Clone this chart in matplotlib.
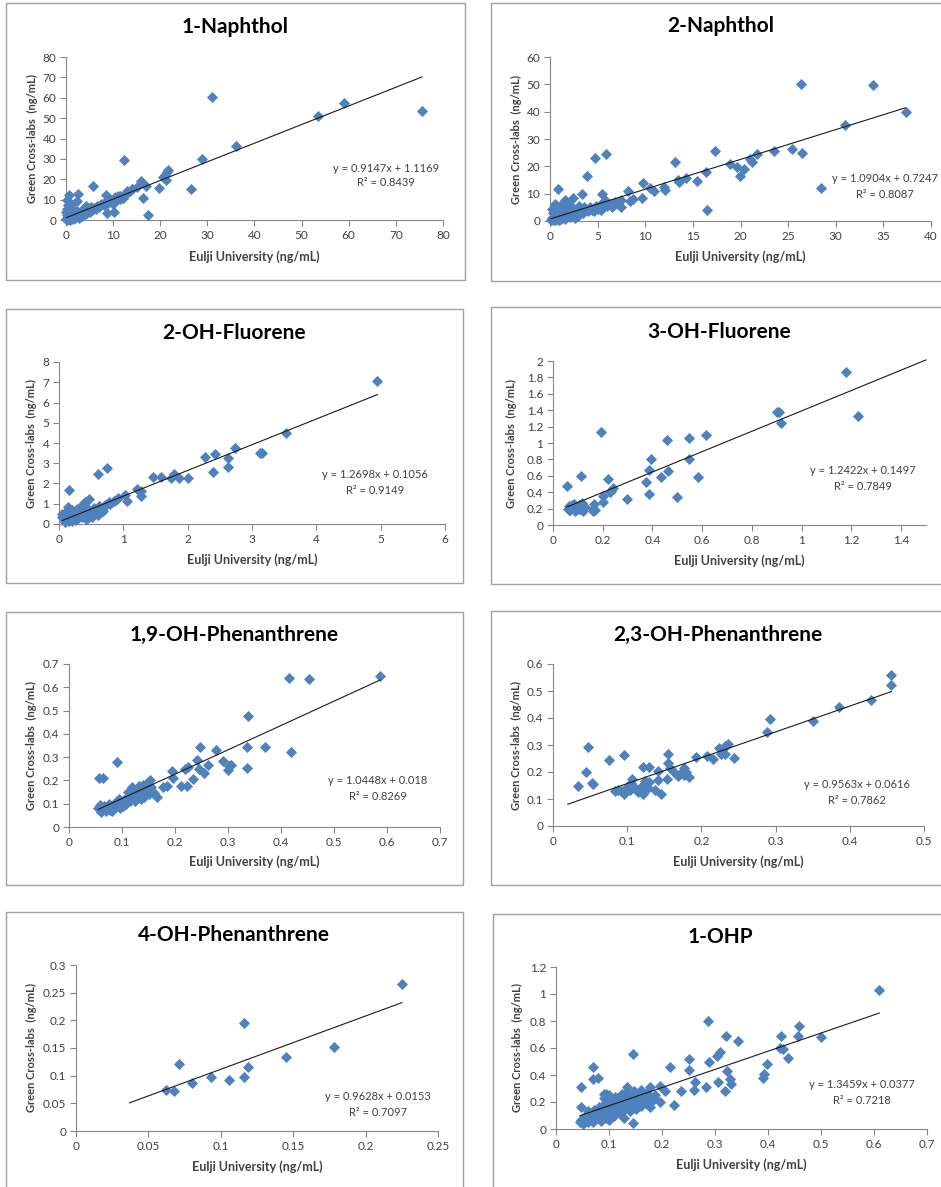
import matplotlib
matplotlib.use('Agg')
import matplotlib.pyplot as plt
from matplotlib.patches import Rectangle
import numpy as np

plt.rcParams['font.family'] = ['Lato', 'DejaVu Sans']

W, H = 941, 1187

# ---------------- DATA ----------------
titles = ['1-Naphthol', '2-Naphthol', '2-OH-Fluorene', '3-OH-Fluorene',
          '1,9-OH-Phenanthrene', '2,3-OH-Phenanthrene', '4-OH-Phenanthrene', '1-OHP']
slopes = [0.9147, 1.0904, 1.2698, 1.2422, 1.0448, 0.9563, 0.9628, 1.3459]
intercepts = [1.1169, 0.7247, 0.1056, 0.1497, 0.018, 0.0616, 0.0153, 0.0377]
r2_values = ['0.8439', '0.8087', '0.9149', '0.7849', '0.8269', '0.7862', '0.7097', '0.7218']
eq_texts = ['y = 0.9147x + 1.1169', 'y = 1.0904x + 0.7247', 'y = 1.2698x + 0.1056',
            'y = 1.2422x + 0.1497', 'y = 1.0448x + 0.018', 'y = 0.9563x + 0.0616',
            'y = 0.9628x + 0.0153', 'y = 1.3459x + 0.0377']
trend_start = [0.1, 0.1, 0.05, 0.055, 0.055, 0.02, 0.037, 0.045]
trend_end = [75.5, 37.3, 4.95, 1.5, 0.587, 0.456, 0.225, 0.61]
x_max = [80, 40, 6, 1.5, 0.7, 0.5, 0.25, 0.7]
x_step = [10, 5, 1, 0.2, 0.1, 0.1, 0.05, 0.1]
y_max = [80, 60, 8, 2, 0.7, 0.6, 0.3, 1.2]
y_step = [10, 10, 1, 0.2, 0.1, 0.1, 0.05, 0.2]

# 1-Naphthol
p1_x = [75.5, 59, 53.5, 36, 31, 28.8, 26.6, 21.7, 21.4, 21, 21.2, 20.6, 19.8, 17.3, 17, 16.4, 16, 15, 14, 13,
        12.3, 12, 11.5, 11, 10.2, 10, 8.8, 8.5, 5.8, 2.5, 2.3, 0.7, 0.3, 1,
        0.1, 0.2, 0.3, 0.4, 0.5, 0.6, 0.7, 0.8, 0.9, 1.0, 1.1, 1.2, 1.3, 1.5, 1.6, 1.8, 2.0, 2.2, 2.4, 2.6,
        2.8, 3.0, 3.2, 3.4, 3.6, 3.8, 4.0, 4.2, 4.4, 4.6, 4.8, 5.0, 5.3, 5.6, 6.0, 6.3, 6.6, 7.0, 7.5, 8.0,
        8.3, 9.0, 9.5, 10.0, 10.5, 11.0, 11.5, 12.0, 12.5, 13.0, 13.5, 14.0, 0.6, 0.1, 0.4,
        0.2, 0.5, 0.8, 1.4, 1.7, 2.1, 0.3, 0.9, 2.7, 3.3, 3.9]
p1_y = [53.5, 57.5, 51, 36.5, 60.5, 30, 15, 24.5, 23.5, 22, 19.5, 21, 15.5, 2.3, 16.5, 11, 19, 16, 15, 14,
        29.5, 11, 10.5, 12, 4, 8, 3.5, 12.2, 16.8, 13, 9.2, 12.5, 10, 8,
        0.3, 1.0, 0.1, 2.0, 0.5, 3.0, 1.2, 0.2, 4.0, 1.5, 2.5, 0.8, 3.5, 1.8, 5.0, 2.2, 1.0, 3.0, 4.5, 2.0,
        3.5, 1.5, 4.0, 3.0, 5.5, 2.5, 4.5, 7.0, 3.5, 5.0, 6.0, 4.0, 6.5, 5.0, 6.0, 5.5, 7.0, 6.5, 8.0, 7.5,
        9.0, 8.5, 10.0, 9.0, 11.5, 10.5, 12.0, 11.0, 12.5, 13.5, 14.0, 15.0, 6.0, 4.0, 7.5,
        2.5, 1.5, 2.8, 0.5, 3.0, 2.0, 5.5, 0.6, 1.2, 2.2, 3.3]

# 2-Naphthol
p2_x = [37.4, 33.9, 26.4, 31, 28.4, 26.5, 25.4, 23.5, 21.7, 21.2, 21, 20.4, 19.9, 19.6, 18.9, 17.3, 16.4,
        16.5, 15.4, 14.3, 13.5, 13.4, 13.1, 12.1, 12, 10.9, 10.5, 9.8, 9.7, 8.7, 8.4, 8.2, 7.5, 5.9, 4.7,
        3.9, 3.4, 5.5, 5.8, 2.4, 1.6, 1.8, 0.85, 0.5,
        0.1, 0.2, 0.3, 0.4, 0.5, 0.6, 0.7, 0.8, 0.9, 1.0, 1.1, 1.2, 1.3, 1.4, 1.5, 1.6, 1.8, 1.9, 2.0, 2.1,
        2.3, 2.5, 2.6, 2.7, 2.9, 3.0, 3.2, 3.3, 3.5, 3.6, 3.8, 4.0, 4.2, 4.4, 4.6, 4.8, 5.0, 5.2, 5.4, 5.6,
        5.8, 6.0, 6.3, 6.5, 6.8, 7.0, 7.5, 0.3, 0.2, 1.0, 1.5, 0.6, 2.2, 3.0, 1.2]
p2_y = [40, 49.7, 50, 35, 12, 24.8, 26.3, 25.5, 24.5, 21.5, 22.5, 19.2, 16.5, 19.8, 20.8, 25.5, 17.8,
        4, 14.8, 15.6, 14.3, 15, 21.5, 11.2, 12.5, 11, 12, 13.8, 8.5, 8, 7.2, 11, 5.2, 24.6, 22.9,
        16.6, 9.8, 9.8, 7.8, 8.3, 7.5, 7.0, 11.6, 6.3,
        0.3, 1.0, 0.2, 1.5, 0.5, 2.0, 0.8, 1.5, 0.3, 2.5, 1.2, 0.6, 3.0, 1.8, 2.2, 0.8, 3.5, 2.0, 4.0, 1.5,
        3.0, 2.5, 1.0, 4.0, 3.0, 2.2, 4.5, 3.5, 2.8, 5.0, 4.0, 3.5, 5.0, 4.2, 3.8, 5.5, 4.5, 6.0, 4.0, 5.2,
        6.5, 5.5, 6.2, 5.0, 7.0, 6.5, 7.5, 3.0, 4.5, 5.5, 5.0, 2.8, 5.5, 5.5, 4.0]

# 2-OH-Fluorene
p3_x = [4.95, 3.53, 3.15, 3.12, 2.73, 2.63, 2.63, 2.43, 2.39, 2.27, 2.0, 1.86, 1.78, 1.74, 1.59, 1.46,
        1.28, 1.22, 1.27, 1.06, 1.02, 0.92, 0.88, 0.75, 0.61, 0.16, 0.46, 0.38,
        0.05, 0.08, 0.1, 0.12, 0.14, 0.15, 0.17, 0.2, 0.22, 0.25, 0.27, 0.3, 0.32, 0.35, 0.37, 0.4, 0.42,
        0.45, 0.47, 0.5, 0.52, 0.55, 0.58, 0.62, 0.65, 0.68, 0.7, 0.72, 0.78, 0.8, 0.85, 0.1, 0.2, 0.05,
        0.3, 0.45, 0.6, 0.12, 0.4, 0.28]
p3_y = [7.08, 4.5, 3.52, 3.5, 3.75, 3.25, 2.83, 3.48, 2.58, 3.3, 2.25, 2.25, 2.47, 2.25, 2.3, 2.3,
        1.38, 1.75, 1.65, 1.12, 1.42, 1.3, 1.18, 2.76, 2.48, 1.68, 1.25, 1.0,
        0.35, 0.5, 0.2, 0.6, 0.85, 0.15, 0.4, 0.7, 0.3, 0.55, 0.2, 0.45, 0.7, 0.35, 0.9, 0.5, 0.25,
        0.75, 0.4, 0.6, 0.35, 0.8, 0.55, 0.9, 0.7, 0.65, 0.85, 0.95, 1.1, 1.0, 1.15, 0.1, 0.15, 0.5,
        0.3, 0.3, 0.45, 0.3, 1.1, 0.75]

# 3-OH-Fluorene
p4_x = [1.178, 1.228, 0.9, 0.91, 0.917, 0.617, 0.585, 0.547, 0.548, 0.5, 0.459, 0.463, 0.434, 0.394,
        0.386, 0.376, 0.386, 0.299, 0.24, 0.23, 0.235, 0.22, 0.203, 0.203, 0.193, 0.111, 0.055,
        0.06, 0.065, 0.07, 0.075, 0.08, 0.085, 0.09, 0.095, 0.1, 0.105, 0.11, 0.115, 0.12, 0.13, 0.16,
        0.165, 0.17, 0.16, 0.065]
p4_y = [1.87, 1.33, 1.38, 1.38, 1.25, 1.1, 0.59, 1.06, 0.81, 0.34, 1.04, 0.66, 0.59, 0.8,
        0.67, 0.52, 0.38, 0.32, 0.45, 0.4, 0.42, 0.56, 0.35, 0.28, 1.13, 0.6, 0.48,
        0.2, 0.23, 0.18, 0.24, 0.21, 0.26, 0.17, 0.22, 0.19, 0.24, 0.2, 0.27, 0.17, 0.22, 0.2,
        0.26, 0.18, 0.17, 0.18]

# 1,9-OH-Phenanthrene
p5_x = [0.587, 0.415, 0.452, 0.419, 0.37, 0.337, 0.336, 0.336, 0.305, 0.3, 0.302, 0.291, 0.277, 0.263,
        0.255, 0.247, 0.242, 0.246, 0.234, 0.222, 0.212, 0.218, 0.225, 0.195, 0.197, 0.184, 0.178,
        0.166, 0.09, 0.056, 0.065,
        0.055, 0.058, 0.06, 0.063, 0.066, 0.07, 0.072, 0.075, 0.078, 0.08, 0.082, 0.085, 0.088, 0.09,
        0.092, 0.095, 0.097, 0.1, 0.102, 0.105, 0.108, 0.11, 0.112, 0.115, 0.118, 0.12, 0.122, 0.125,
        0.128, 0.13, 0.132, 0.135, 0.138, 0.14, 0.142, 0.145, 0.148, 0.15, 0.152, 0.155, 0.158, 0.16,
        0.113, 0.098, 0.127]
p5_y = [0.648, 0.64, 0.636, 0.32, 0.342, 0.477, 0.342, 0.252, 0.266, 0.245, 0.26, 0.284, 0.33, 0.267,
        0.232, 0.342, 0.288, 0.25, 0.206, 0.178, 0.178, 0.25, 0.257, 0.242, 0.21, 0.175, 0.17,
        0.13, 0.28, 0.21, 0.21,
        0.08, 0.095, 0.065, 0.075, 0.09, 0.07, 0.085, 0.1, 0.075, 0.09, 0.07, 0.1, 0.085, 0.11,
        0.095, 0.12, 0.08, 0.105, 0.09, 0.115, 0.1, 0.13, 0.15, 0.11, 0.17, 0.125, 0.14, 0.11,
        0.16, 0.13, 0.175, 0.12, 0.15, 0.18, 0.13, 0.16, 0.19, 0.14, 0.2, 0.17, 0.15, 0.145,
        0.12, 0.1, 0.145]

# 2,3-OH-Phenanthrene
p6_x = [0.456, 0.455, 0.429, 0.385, 0.35, 0.292, 0.288, 0.244, 0.236, 0.232, 0.228, 0.227, 0.232, 0.224,
        0.216, 0.208, 0.193, 0.183, 0.179, 0.177, 0.176, 0.172, 0.168, 0.163, 0.158, 0.155, 0.155,
        0.153, 0.145, 0.138, 0.142, 0.142, 0.13, 0.13, 0.121, 0.121, 0.118, 0.114, 0.122, 0.124,
        0.107, 0.104, 0.1, 0.096, 0.092, 0.096, 0.087, 0.083, 0.075, 0.054, 0.052, 0.047, 0.044,
        0.034, 0.11, 0.115, 0.125, 0.105, 0.118, 0.128]
p6_y = [0.56, 0.524, 0.468, 0.44, 0.39, 0.398, 0.348, 0.253, 0.305, 0.295, 0.28, 0.268, 0.268, 0.288,
        0.247, 0.26, 0.254, 0.18, 0.2, 0.19, 0.215, 0.195, 0.185, 0.2, 0.215, 0.267, 0.232,
        0.175, 0.12, 0.135, 0.205, 0.17, 0.217, 0.163, 0.217, 0.12, 0.146, 0.133, 0.153, 0.165,
        0.175, 0.132, 0.145, 0.118, 0.13, 0.264, 0.135, 0.13, 0.243, 0.156, 0.16, 0.292, 0.2,
        0.148, 0.14, 0.125, 0.15, 0.16, 0.135, 0.14]

# 4-OH-Phenanthrene
p7_x = [0.225, 0.178, 0.145, 0.116, 0.119, 0.116, 0.106, 0.093, 0.080, 0.071, 0.068, 0.062]
p7_y = [0.266, 0.151, 0.133, 0.195, 0.116, 0.097, 0.093, 0.098, 0.087, 0.121, 0.073, 0.075]

# 1-OHP
p8_x = [0.61, 0.5, 0.459, 0.457, 0.438, 0.425, 0.423, 0.428, 0.398, 0.392, 0.39, 0.344, 0.321, 0.323,
        0.328, 0.33, 0.318, 0.309, 0.303, 0.306, 0.287, 0.289, 0.283, 0.262, 0.261, 0.25, 0.25, 0.235,
        0.223, 0.216, 0.206, 0.197, 0.196, 0.187, 0.178, 0.178, 0.145, 0.145, 0.129, 0.134, 0.08,
        0.069, 0.07, 0.048, 0.047, 0.09, 0.095,
        0.045, 0.048, 0.05, 0.052, 0.055, 0.058, 0.06, 0.062, 0.065, 0.067, 0.07, 0.072, 0.075, 0.078,
        0.08, 0.082, 0.085, 0.087, 0.09, 0.092, 0.095, 0.097, 0.1, 0.102, 0.105, 0.107, 0.11, 0.112,
        0.115, 0.117, 0.12, 0.122, 0.125, 0.127, 0.13, 0.132, 0.135, 0.137, 0.14, 0.142, 0.145, 0.148,
        0.15, 0.153, 0.155, 0.158, 0.16, 0.163, 0.165, 0.168, 0.17, 0.173, 0.175, 0.18, 0.185,
        0.06, 0.07, 0.085, 0.095, 0.1, 0.11, 0.12, 0.13, 0.14, 0.1, 0.09, 0.115, 0.125, 0.08, 0.105,
        0.135, 0.15, 0.16, 0.17]
p8_y = [1.03, 0.68, 0.763, 0.69, 0.524, 0.69, 0.6, 0.59, 0.48, 0.41, 0.38, 0.655, 0.69, 0.43,
        0.37, 0.33, 0.28, 0.573, 0.54, 0.35, 0.8, 0.5, 0.31, 0.345, 0.29, 0.52, 0.44, 0.28,
        0.175, 0.457, 0.28, 0.32, 0.2, 0.25, 0.31, 0.16, 0.556, 0.047, 0.08, 0.31, 0.38,
        0.46, 0.37, 0.31, 0.16, 0.26, 0.26,
        0.05, 0.07, 0.04, 0.09, 0.06, 0.1, 0.05, 0.08, 0.12, 0.07, 0.1, 0.14, 0.08, 0.12,
        0.1, 0.16, 0.13, 0.09, 0.18, 0.12, 0.2, 0.15, 0.11, 0.22, 0.17, 0.13, 0.19, 0.24,
        0.15, 0.21, 0.17, 0.25, 0.19, 0.14, 0.22, 0.27, 0.18, 0.24, 0.2, 0.16, 0.23, 0.28,
        0.19, 0.22, 0.25, 0.18, 0.29, 0.21, 0.24, 0.2, 0.27, 0.22, 0.25, 0.2, 0.23,
        0.13, 0.05, 0.06, 0.08, 0.07, 0.1, 0.12, 0.15, 0.13, 0.25, 0.23, 0.23, 0.26, 0.14, 0.14,
        0.21, 0.15, 0.17, 0.19]

xs = [p1_x, p2_x, p3_x, p4_x, p5_x, p6_x, p7_x, p8_x]
ys = [p1_y, p2_y, p3_y, p4_y, p5_y, p6_y, p7_y, p8_y]

x_label = 'Eulji University (ng/mL)'
y_label = 'Green Cross-labs  (ng/mL)'

# ---------------- LAYOUT (pixels) ----------------
layout = [
    dict(frame=(6, 3, 465, 280), ax=(66, 443, 57, 220), title=(235, 27), eq=(386, 168, 183), xl=257, yl=32),
    dict(frame=(491, 3, 950, 281), ax=(550, 931, 57, 221), title=(721, 26), eq=(885, 179, 194), xl=257, yl=516),
    dict(frame=(6, 309, 463, 583), ax=(59, 445, 362, 524), title=(234, 333), eq=(375, 475, 491), xl=560, yl=31),
    dict(frame=(491, 307, 950, 584), ax=(553, 926, 361, 525), title=(719, 332), eq=(863, 471, 486), xl=561, yl=511),
    dict(frame=(6, 612, 463, 885), ax=(69, 440, 664, 827), title=(234, 635), eq=(378, 781, 796), xl=862, yl=31),
    dict(frame=(491, 611, 950, 885), ax=(553, 924, 664, 826), title=(718, 635), eq=(857, 785, 800), xl=862, yl=516),
    dict(frame=(6, 912, 463, 1195), ax=(76, 438, 965, 1131), title=(234, 935), eq=(378, 1097, 1112), xl=1167, yl=31),
    dict(frame=(493, 914, 950, 1195), ax=(556, 927, 967, 1129), title=(720, 937), eq=(862, 1085, 1100), xl=1165, yl=517),
]

fig = plt.figure(figsize=(W / 100, H / 100), dpi=100)
fig.patch.set_facecolor('white')

def fx(px):
    return px / W

def fy(py):
    return 1 - py / H

MARK = '#4F81BD'
AXC = '#868686'
TXT = '#404040'

def fmt(v):
    return '%g' % round(v, 6)

for i in range(8):
    L = layout[i]
    l, t, r, b = L['frame']
    fig.patches.append(Rectangle((fx(l), fy(b)), fx(r) - fx(l), fy(t) - fy(b), transform=fig.transFigure,
                                 fill=False, edgecolor='#A0A0A0', linewidth=1.0, zorder=0))
    x0, x1, yt, yb = L['ax']
    ax = fig.add_axes([fx(x0), fy(yb), fx(x1) - fx(x0), fy(yt) - fy(yb)])
    ax.set_facecolor('none')
    ax.set_xlim(0, x_max[i])
    ax.set_ylim(0, y_max[i])
    for s in ['top', 'right']:
        ax.spines[s].set_visible(False)
    for s in ['left', 'bottom']:
        ax.spines[s].set_color(AXC)
        ax.spines[s].set_linewidth(0.8)
    nx = int(np.floor(x_max[i] / x_step[i] + 1e-9))
    xt = [round(k * x_step[i], 6) for k in range(nx + 1)]
    ny = int(np.floor(y_max[i] / y_step[i] + 1e-9))
    ytk = [round(k * y_step[i], 6) for k in range(ny + 1)]
    ax.set_xticks(xt)
    ax.set_xticklabels([fmt(v) for v in xt])
    ax.set_yticks(ytk)
    ax.set_yticklabels([fmt(v) for v in ytk])
    ax.tick_params(direction='out', length=4, width=0.8, color=AXC, labelsize=8.5,
                   labelcolor=TXT, pad=3)
    ax.scatter(xs[i], ys[i], marker='D', s=32, color=MARK, linewidths=0, clip_on=False, zorder=3)
    lx = np.array([trend_start[i], trend_end[i]])
    ax.plot(lx, slopes[i] * lx + intercepts[i], color='#1a1a1a', linewidth=0.8, zorder=4, clip_on=False)

    fig.text(fx(L['title'][0]), fy(L['title'][1]), titles[i], ha='center', va='center',
             fontsize=15, fontweight='bold', color='black')
    ex, ey1, ey2 = L['eq']
    fig.text(fx(ex), fy(ey1), eq_texts[i], ha='center', va='center', fontsize=8, color=TXT)
    fig.text(fx(ex), fy(ey2), 'R² = ' + r2_values[i], ha='center', va='center', fontsize=8, color=TXT)
    fig.text(fx((x0 + x1) / 2), fy(L['xl']), x_label, ha='center', va='center', fontsize=9,
             fontweight='bold', color=TXT)
    fig.text(fx(L['yl']), fy((yt + yb) / 2), y_label, ha='center', va='center', fontsize=8,
             fontweight='bold', color=TXT, rotation=90)

fig.savefig('out.png', dpi=100, facecolor='white')
